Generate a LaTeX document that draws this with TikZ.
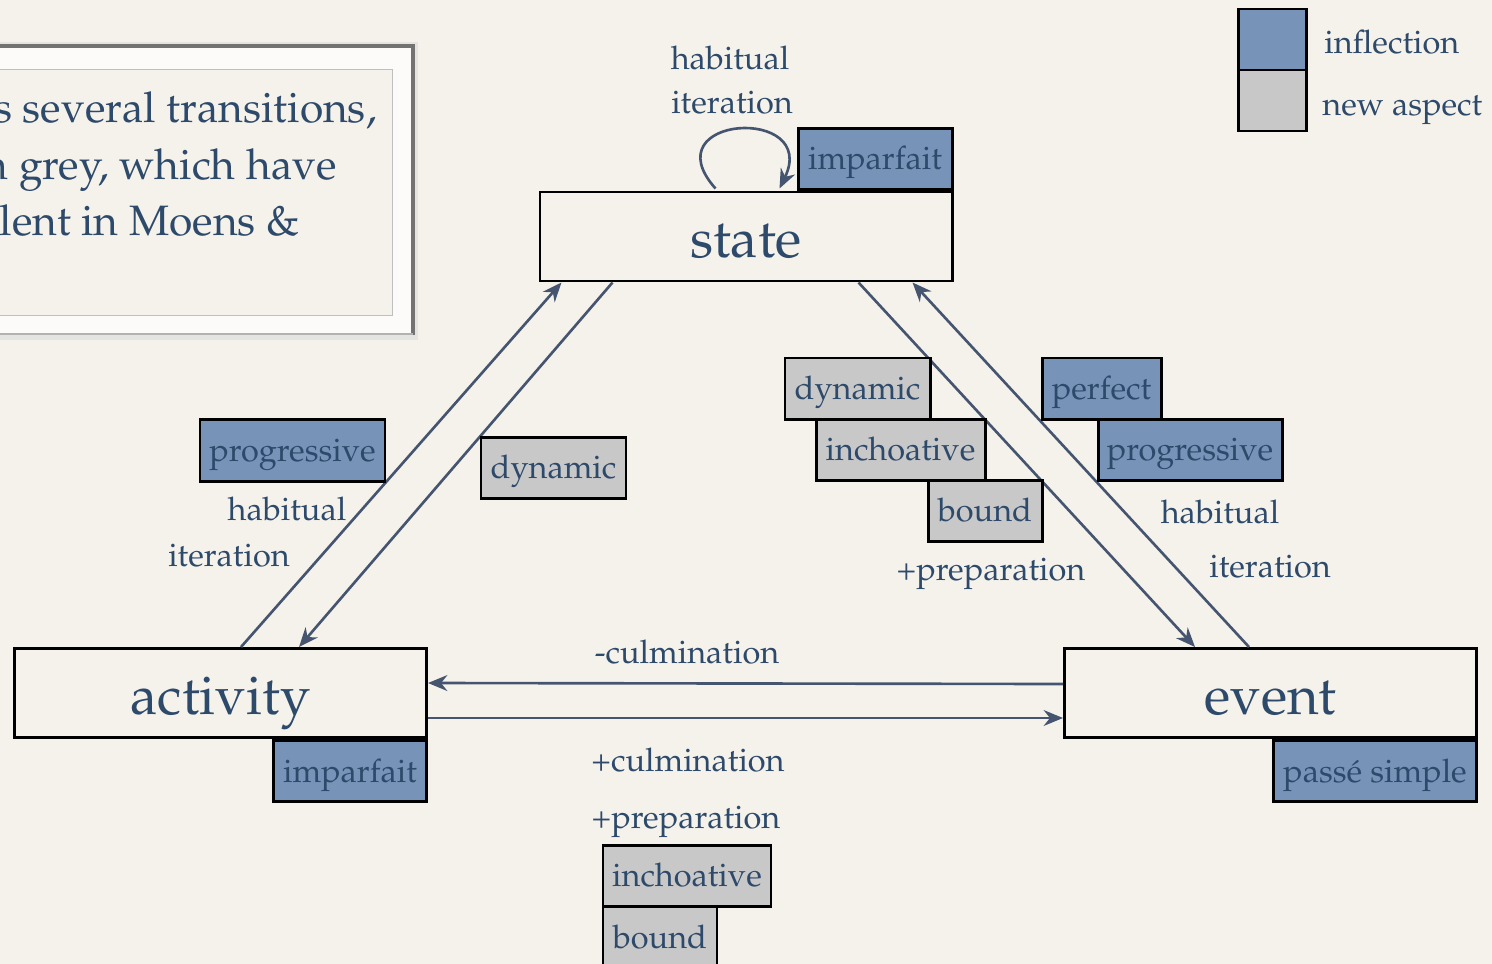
\documentclass[tikz,border=0pt]{standalone}
\usepackage[T1]{fontenc}
\usepackage{mathpazo}
\usetikzlibrary{calc,arrows.meta}

\definecolor{bgcream}{HTML}{F5F2EC}
\definecolor{txtblue}{HTML}{2E4A6B}
\definecolor{inflblue}{HTML}{7793B8}
\definecolor{aspgrey}{HTML}{C8C8C8}
\definecolor{arrgrey}{HTML}{46556F}
\definecolor{framelight}{HTML}{E4E4E2}

\begin{document}
\begin{tikzpicture}[x=0.02cm, y=-0.02cm,
  every node/.style={text=txtblue},
  pxsize/.style 2 args={minimum width=#1*0.02cm, minimum height=#2*0.02cm},
  aktart/.style={draw=black, line width=1.7pt, inner sep=0pt, pxsize={412}{89},
    font=\fontsize{31}{36}\selectfont, text height=24.8pt, text depth=0.6pt},
  tagbox/.style={draw=black, line width=1.7pt, inner sep=0pt,
    font=\fontsize{18.5}{22}\selectfont, text height=13.9pt, text depth=0.9pt},
  infl/.style={tagbox, fill=inflblue},
  asp/.style={tagbox, fill=aspgrey},
  lbl/.style={font=\fontsize{18.5}{22}\selectfont, inner sep=0pt,
    text height=13pt, text depth=0pt},
  trans/.style={draw=arrgrey, line width=1.5pt, -{Stealth[length=11pt,width=9pt]}}]
  % --- Hintergrund ---
  \fill[bgcream] (0,0) rectangle (1492,964);
  \useasboundingbox (0,0) rectangle (1492,964);

  % --- Textkasten links (abgeschnitten) ---
  \fill[framelight] (-10,42) rectangle (418,340);
  \fill[white!70!bgcream] (-10,48) rectangle (411,333);
  \draw[black!55, line width=2pt] (-10,46) -- (413,46) -- (413,335);
  \draw[black!30, line width=1pt] (-10,334) -- (413,334);
  \draw[black!25, fill=bgcream] (-10,69) rectangle (392,315);
  \node[font=\fontsize{24.2}{29}\selectfont, anchor=base east, inner sep=0pt] (tx1) at (377,122) {s several transitions,};
  \node[font=\fontsize{24.2}{29}\selectfont, anchor=base east, inner sep=0pt] (tx2) at (337,179) {n grey, which have};
  \node[font=\fontsize{24.2}{29}\selectfont, anchor=base east, inner sep=0pt] (tx3) at (300,235) {lent in Moens \&};

  % --- Legende ---
  \node[infl, pxsize={68}{61}] (legI) at (1272,39.5) {};
  \node[asp, pxsize={68}{61}] (legA) at (1272,100.5) {};
  \node[lbl, anchor=west] (legIt) at (1324,42) {inflection};
  \node[lbl, anchor=west] (legAt) at (1322,104) {new aspect};

  % --- Zustaende ---
  \node[aktart] (state) at (746,236.5) {state};
  \node[aktart] (activity) at (220.5,693) {activity};
  \node[aktart] (event) at (1270.5,693) {event};

  % --- Flexion unter/ueber den Kaesten ---
  \node[infl, pxsize={154}{61}, anchor=south east] (impS) at (state.north east) {imparfait};
  \node[infl, pxsize={153}{61}, anchor=north east] (impA) at (activity.south east) {imparfait};
  \node[infl, pxsize={203}{61}, anchor=north east] (pasE) at (event.south east) {pass\'e simple};

  % --- Uebergaenge ---
  \coordinate (aS1) at ($(activity.north west)+(228,0)$);
  \coordinate (aS2) at ($(activity.north west)+(286,0)$);
  \coordinate (sA1) at ($(state.south west)+(23,0)$);
  \coordinate (sA2) at ($(state.south west)+(74,0)$);
  \coordinate (sE1) at ($(state.south west)+(320,0)$);
  \coordinate (sE2) at ($(state.south west)+(374,0)$);
  \coordinate (eS1) at ($(event.north west)+(132,0)$);
  \coordinate (eS2) at ($(event.north west)+(186,0)$);
  \coordinate (eA) at ($(event.west)+(0,-9)$);
  \coordinate (aE) at ($(activity.east)+(0,25)$);
  \coordinate (aEin) at ($(activity.east)+(0,-10)$);
  \coordinate (eAin) at ($(event.west)+(0,25)$);
  \draw[trans] (aS1) -- (sA1);
  \draw[trans] (sA2) -- (aS2);
  \draw[trans] (sE1) -- (eS1);
  \draw[trans] (eS2) -- (sE2);
  \draw[trans] (eA) -- (aEin);
  \draw[trans] (aE) -- (eAin);
  % Schleife am Zustand
  \coordinate (lpA) at ($(state.north west)+(177,-2)$);
  \coordinate (lpB) at ($(state.north west)+(241,-2)$);
  \draw[trans] (lpA) .. controls (650,115) and (820,105) .. (lpB);

  % --- Beschriftung oben ---
  \node[lbl] (habS) at (730,58) {habitual};
  \node[lbl] (itS) at (732,102) {iteration};

  % --- links ---
  \node[infl, pxsize={185}{62}] (progA) at (292.5,450) {progressive};
  \node[lbl] (habA) at (287,509) {habitual};
  \node[lbl] (itA) at (229,555) {iteration};
  \node[asp, pxsize={145}{61}] (dynA) at (553.5,467.5) {dynamic};

  % --- rechts ---
  \node[asp, pxsize={145}{61}] (dynE) at (857.5,388.5) {dynamic};
  \node[asp, pxsize={169}{61}] (incE) at (900.5,449.5) {inchoative};
  \node[asp, pxsize={114}{61}] (bndE) at (985,510.5) {bound};
  \node[lbl] (prepE) at (991,569) {+preparation};
  \node[infl, pxsize={119}{61}] (perfE) at (1101.5,388.5) {perfect};
  \node[infl, pxsize={184}{61}] (progE) at (1190,449.5) {progressive};
  \node[lbl] (habE) at (1220,512) {habitual};
  \node[lbl] (itE) at (1270,566) {iteration};

  % --- unten ---
  \node[lbl] (mcul) at (687,652) {-culmination};
  \node[lbl] (pcul) at (688,760) {+culmination};
  \node[lbl] (prepB) at (686,817) {+preparation};
  \node[asp, pxsize={168}{61}] (incB) at (687,875.5) {inchoative};
  \node[asp, pxsize={114}{61}] (bndB) at (660,937) {bound};
\end{tikzpicture}
\end{document}
